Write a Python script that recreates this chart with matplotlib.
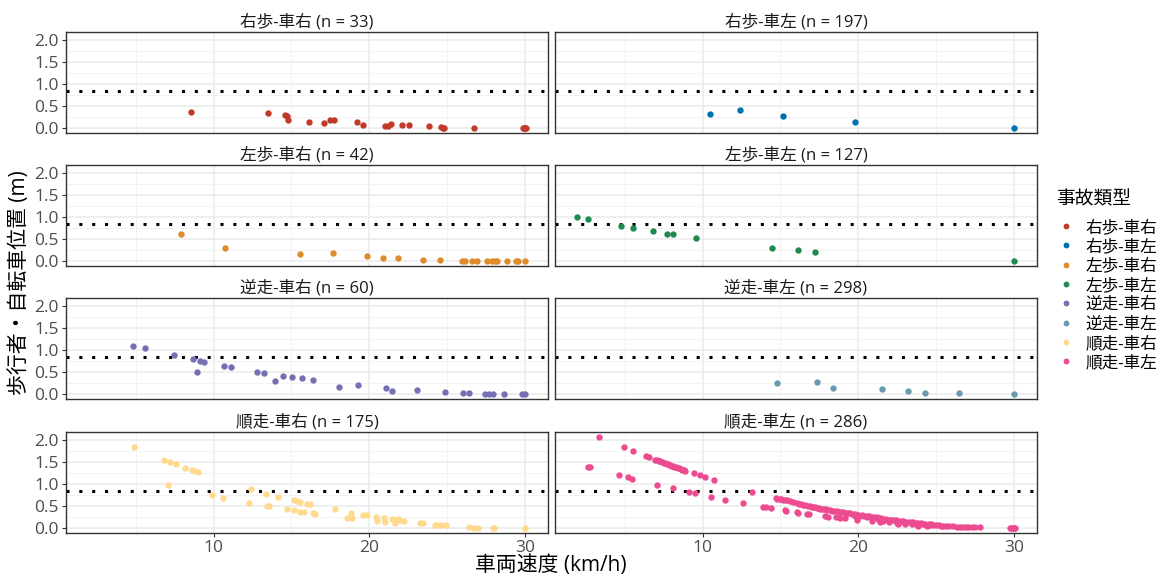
import matplotlib
matplotlib.use("Agg")
import matplotlib.pyplot as plt
from matplotlib.lines import Line2D
from matplotlib.ticker import MultipleLocator

plt.rcParams['font.family'] = ['Open Sans', 'Noto Sans CJK JP', 'DejaVu Sans']

# ---------------- data ----------------
categories = ["右歩-車右", "右歩-車左", "左歩-車右", "左歩-車左",
              "逆走-車右", "逆走-車左", "順走-車右", "順走-車左"]
counts = [33, 197, 42, 127, 60, 298, 175, 286]
colors = ["#C0392B", "#0072B2", "#E08A2A", "#1E8A4F",
          "#7570B3", "#6B9AB0", "#FFD98E", "#EC4B91"]
threshold = 0.85

rr_speed = [8.56, 13.47, 14.57, 14.7, 14.75, 16.1, 17.1, 17.47, 17.74, 19.18, 19.6,
            21.0, 21.2, 21.4, 22.1, 22.55, 23.8, 24.57, 24.7, 24.8, 26.7,
            29.85, 29.95, 30.0, 30.05, 29.9]
rr_pos = [0.37, 0.34, 0.30, 0.29, 0.19, 0.15, 0.13, 0.20, 0.19, 0.14, 0.08,
          0.06, 0.06, 0.09, 0.075, 0.07, 0.045, 0.04, 0.02, 0.015, 0.01,
          0.0, 0.0, 0.0, 0.0, 0.01]

rl_speed = [10.47, 12.41, 15.17, 19.77, 30.0]
rl_pos = [0.32, 0.41, 0.29, 0.14, 0.0]

lr_speed = [7.93, 10.72, 15.52, 17.65, 19.87, 20.85, 21.81, 23.41, 24.5, 25.93,
            26.1, 26.6, 26.9, 27.55, 27.85, 28.05, 28.2, 28.8, 29.4, 29.55, 30.0]
lr_pos = [0.62, 0.30, 0.17, 0.19, 0.13, 0.07, 0.08, 0.04, 0.04, 0.02,
          0.015, 0.015, 0.015, 0.01, 0.01, 0.01, 0.01, 0.0, 0.01, 0.01, 0.0]

ll_speed = [1.94, 2.67, 4.76, 5.53, 6.79, 7.69, 8.08, 9.57, 14.47, 16.15, 17.24, 30.0]
ll_pos = [1.00, 0.95, 0.81, 0.76, 0.69, 0.63, 0.61, 0.53, 0.31, 0.25, 0.21, 0.0]

wr_speed = [4.84, 5.59, 7.46, 8.66, 8.91, 9.1, 9.38, 10.66, 11.09, 12.77, 13.22,
            13.92, 14.46, 15.04, 15.65, 16.38, 18.06, 19.28, 21.09, 21.45, 23.03,
            24.84, 25.99, 26.38, 27.44, 27.7, 27.93, 28.66, 29.77, 30.0]
wr_pos = [1.105, 1.045, 0.887, 0.797, 0.504, 0.767, 0.744, 0.654, 0.624, 0.511, 0.489,
          0.293, 0.421, 0.391, 0.361, 0.323, 0.158, 0.203, 0.135, 0.083, 0.09,
          0.045, 0.023, 0.023, 0.015, 0.015, 0.015, 0.008, 0.0, 0.0]

wl_speed = [14.76, 17.33, 18.35, 21.5, 23.2, 24.27, 26.45, 30.0]
wl_pos = [0.263, 0.286, 0.143, 0.12, 0.083, 0.038, 0.023, 0.0]

fr_speed = [4.90, 6.80, 7.19, 7.59, 8.19, 8.64, 8.83, 9.02, 7.08, 9.91, 10.58,
            12.26, 12.43, 13.39, 13.43, 13.54, 14.14, 14.73, 15.16, 15.35, 15.54,
            15.14, 15.57, 15.8, 15.97, 16.18, 16.4, 16.5, 17.78, 18.57, 18.81,
            18.89, 19.57, 19.83, 20.45, 20.49, 20.92, 21.0, 21.45, 21.6, 21.66,
            21.81, 21.94, 22.24, 23.26, 23.43, 24.22, 24.33, 24.6, 24.9, 26.4,
            26.74, 26.95, 27.91, 28.02, 29.95, 30.0]
fr_pos = [1.835, 1.556, 1.504, 1.459, 1.376, 1.323, 1.30, 1.278, 0.977, 0.752, 0.699,
          0.579, 0.895, 0.789, 0.504, 0.504, 0.722, 0.436, 0.639, 0.624, 0.609,
          0.406, 0.383, 0.383, 0.564, 0.549, 0.338, 0.331, 0.429, 0.233, 0.353,
          0.226, 0.308, 0.301, 0.263, 0.165, 0.233, 0.143, 0.218, 0.18, 0.128,
          0.203, 0.195, 0.173, 0.128, 0.128, 0.068, 0.083, 0.075, 0.068, 0.03,
          0.015, 0.015, 0.008, 0.008, 0.0, 0.0]

fl_speed = [3.33, 2.65, 2.76, 4.96, 5.51, 4.64, 5.19, 5.47,
            6.40, 6.55, 6.95, 7.10, 7.20, 7.30, 7.40, 7.50, 7.60, 7.70, 7.80, 7.90,
            8.00, 8.10, 8.20, 8.30, 8.40, 8.50, 8.60, 8.70, 8.80, 8.90,
            9.42, 9.85, 10.15, 10.73, 7.07, 8.10, 9.12, 9.49, 10.53, 11.43, 12.60,
            13.18, 13.85, 14.06, 14.40,
            14.68, 14.80, 14.98, 15.05, 15.19, 15.30, 15.41, 15.60, 15.80, 16.05,
            16.20, 16.30, 16.47, 16.60, 16.75, 16.90, 17.00, 17.10, 17.20, 17.33,
            17.45, 17.55, 17.65, 17.76, 17.90, 18.00, 18.18, 18.30, 18.45, 18.61,
            18.75, 18.90, 19.04, 19.20, 19.35, 19.47, 19.60, 19.75, 19.89, 20.00,
            20.20, 20.35, 20.53, 20.70, 20.85, 21.00, 21.18, 21.35, 21.45, 21.60,
            21.80, 21.95, 22.10, 22.24, 22.40, 22.55, 22.70, 22.88, 23.00, 23.20,
            23.35, 23.53, 23.70, 23.85, 24.00, 24.17, 24.30, 24.50, 24.65, 24.81,
            25.00, 25.15, 25.30, 25.45, 25.60, 25.80, 26.09, 26.30, 26.50, 26.73,
            26.90, 27.05, 27.26, 27.50, 27.80,
            15.26, 15.34, 16.05, 16.13, 16.69, 16.86, 17.88, 18.03, 18.55, 18.82,
            19.17, 19.79, 19.89, 20.10, 20.58, 20.88, 21.28, 21.39, 21.60, 21.99,
            22.46, 22.52, 22.99, 23.42, 23.74, 23.85, 24.38, 24.60,
            29.70, 29.80, 29.90, 30.00, 30.05]
fl_pos = [2.08, 1.40, 1.40, 1.84, 1.75, 1.215, 1.155, 1.13,
          1.63, 1.61, 1.56, 1.545, 1.53, 1.52, 1.505, 1.49, 1.48, 1.465, 1.45, 1.44,
          1.425, 1.41, 1.40, 1.385, 1.37, 1.36, 1.345, 1.33, 1.32, 1.305,
          1.25, 1.20, 1.155, 1.087, 0.99, 0.906, 0.823, 0.792, 0.709, 0.649, 0.566,
          0.823, 0.49, 0.483, 0.46,
          0.679, 0.67, 0.664, 0.655, 0.649, 0.64, 0.634, 0.61, 0.59, 0.566,
          0.55, 0.545, 0.528, 0.52, 0.51, 0.498, 0.49, 0.485, 0.475, 0.468,
          0.46, 0.45, 0.445, 0.438, 0.43, 0.425, 0.415, 0.405, 0.395, 0.385,
          0.375, 0.37, 0.362, 0.35, 0.345, 0.34, 0.33, 0.32, 0.31, 0.305,
          0.295, 0.29, 0.28, 0.27, 0.265, 0.26, 0.25, 0.24, 0.23, 0.22,
          0.21, 0.20, 0.195, 0.19, 0.18, 0.17, 0.165, 0.158, 0.15, 0.145,
          0.14, 0.136, 0.125, 0.12, 0.115, 0.106, 0.10, 0.095, 0.09, 0.083,
          0.075, 0.07, 0.065, 0.06, 0.055, 0.05, 0.045, 0.04, 0.04, 0.038,
          0.035, 0.035, 0.03, 0.028, 0.023,
          0.415, 0.40, 0.362, 0.355, 0.332, 0.325, 0.272, 0.264, 0.249, 0.234,
          0.226, 0.27, 0.18, 0.287, 0.264, 0.166, 0.21, 0.15, 0.17, 0.136,
          0.128, 0.09, 0.106, 0.098, 0.083, 0.06, 0.06, 0.068,
          0.0, 0.0, 0.0, 0.0, 0.0]

speeds = [rr_speed, rl_speed, lr_speed, ll_speed, wr_speed, wl_speed, fr_speed, fl_speed]
positions = [rr_pos, rl_pos, lr_pos, ll_pos, wr_pos, wl_pos, fr_pos, fl_pos]

# ---------------- layout ----------------
W, H = 1162, 580
fig = plt.figure(figsize=(W / 100, H / 100), dpi=100)

col_left = [66, 555]
panel_w = 482
row_top = [32, 165, 298, 432]
panel_h = 101

all_x = [v for s in speeds for v in s]
all_y = [v for p in positions for v in p]
xr = max(all_x) - min(all_x)
yr = max(all_y) - min(all_y)
xlim = (min(all_x) - 0.05 * xr, max(all_x) + 0.05 * xr)
ylim = (min(all_y) - 0.05 * yr, max(all_y) + 0.05 * yr)

text_gray = "#4D4D4D"
for i, cat in enumerate(categories):
    r, c = divmod(i, 2)
    left = col_left[c] / W
    bottom = 1 - (row_top[r] + panel_h) / H
    ax = fig.add_axes([left, bottom, panel_w / W, panel_h / H])
    ax.set_xlim(*xlim)
    ax.set_ylim(*ylim)
    ax.xaxis.set_major_locator(MultipleLocator(10))
    ax.xaxis.set_minor_locator(MultipleLocator(5))
    ax.yaxis.set_major_locator(MultipleLocator(0.5))
    ax.yaxis.set_minor_locator(MultipleLocator(0.25))
    ax.grid(True, which="major", color="#EBEBEB", linewidth=1.1)
    ax.grid(True, which="minor", color="#F2F2F2", linewidth=0.7)
    ax.set_axisbelow(True)
    for sp in ax.spines.values():
        sp.set_color("#333333")
        sp.set_linewidth(1.0)
    ax.tick_params(which="minor", length=0)
    ax.tick_params(which="major", length=3, width=0.8, color="#333333",
                   labelsize=12.5, labelcolor=text_gray, pad=2)
    if c == 1:
        ax.tick_params(axis="y", labelleft=False, length=0)
    if r < 3:
        ax.tick_params(axis="x", labelbottom=False, length=0)
    ax.axhline(threshold, color="black", linestyle=(0, (1, 3.2)), linewidth=2.2, zorder=2)
    ax.scatter(speeds[i], positions[i], s=21, color=colors[i], linewidths=0, zorder=3)
    ax.set_title(f"{cat} (n = {counts[i]})", fontsize=12, color="#1A1A1A", pad=4)

fig.text(20 / W, 1 - 283 / H, "歩行者・自転車位置 (m)", rotation=90,
         ha="center", va="center", fontsize=15, color="black")
fig.text(551 / W, 1 - 566 / H, "車両速度 (km/h)", ha="center", va="center",
         fontsize=15, color="black")

handles = [Line2D([0], [0], marker="o", linestyle="", markersize=4.2,
                  markerfacecolor=col, markeredgewidth=0, label=cat)
           for cat, col in zip(categories, colors)]
leg = fig.legend(handles=handles, title="事故類型", loc="upper left",
                 bbox_to_anchor=(1049 / W, 1 - 184 / H), frameon=False,
                 fontsize=12, title_fontsize=13.5, handletextpad=0.6,
                 labelspacing=0.2, handlelength=1.2, borderaxespad=0)
leg._legend_box.align = "left"
leg._legend_box.sep = 8

fig.savefig("out.png", dpi=100)
